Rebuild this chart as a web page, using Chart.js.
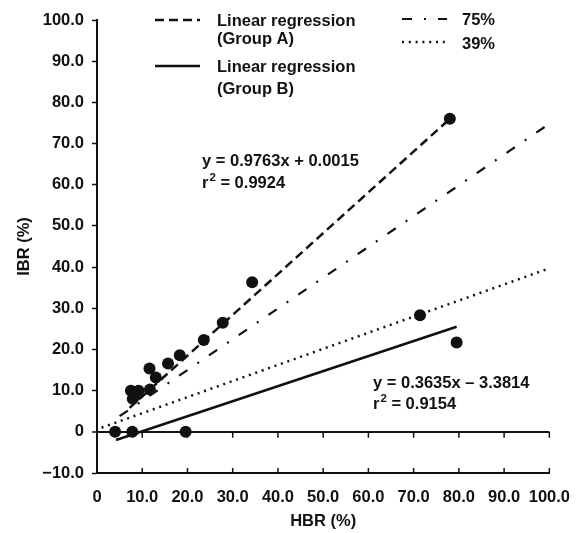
<!DOCTYPE html>
<html>
<head>
<meta charset="utf-8">
<title>IBR vs HBR</title>
<script src="https://cdn.jsdelivr.net/npm/chart.js@4.4.1/dist/chart.umd.min.js"></script>
<style>
  html, body { margin: 0; padding: 0; background: #fff; }
  canvas { display: block; }
</style>
</head>
<body>
<canvas id="chart" width="585" height="533"></canvas>
<script>
'use strict';

// tick values / labels
const xTickValues = [0, 10, 20, 30, 40, 50, 60, 70, 80, 90, 100];
const xTickLabels = ['0', '10.0', '20.0', '30.0', '40.0', '50.0', '60.0', '70.0', '80.0', '90.0', '100.0'];
const yTickValues = [-10, 0, 10, 20, 30, 40, 50, 60, 70, 80, 90, 100];
const yTickLabels = ['\u221210.0', '0', '10.0', '20.0', '30.0', '40.0', '50.0', '60.0', '70.0', '80.0', '90.0', '100.0'];

// Group A samples (HBR %, IBR %)
const groupAX = [7.5, 9.2, 7.9, 8.8, 11.7, 11.6, 13.0, 15.7, 18.3, 23.6, 27.8, 34.3, 78.0];
const groupAY = [10.0, 10.0, 8.0, 9.0, 10.3, 15.4, 13.2, 16.6, 18.6, 22.3, 26.5, 36.3, 76.0];

// Group B samples
const groupBX = [4.0, 7.8, 19.6, 71.4, 79.5];
const groupBY = [0, 0, 0, 28.3, 21.7];

// regression line ends
const regAX = [7.2, 78.0];
const regAY = [5.8, 76.0];
const regBX = [4.2, 79.5];
const regBY = [-2.0, 25.5];

// reference lines
const line75X = [5, 100];
const line75Y = [3.8, 74.8];
const line39X = [1, 100];
const line39Y = [1.0, 39.7];

const FONT = 'Liberation Sans';
const INK = '#111';

const toPoints = (xs, ys) => xs.map((x, i) => ({ x, y: ys[i] }));

const lineSet = (label, xs, ys, dash, width) => ({
  label,
  data: toPoints(xs, ys),
  showLine: true,
  borderColor: INK,
  backgroundColor: INK,
  borderWidth: width,
  borderDash: dash,
  borderCapStyle: 'butt',
  pointRadius: 0,
  pointHoverRadius: 0,
  order: 2
});

const pointSet = (label, xs, ys) => ({
  label,
  data: toPoints(xs, ys),
  showLine: false,
  pointRadius: 6,
  pointHoverRadius: 6,
  pointBackgroundColor: INK,
  pointBorderColor: INK,
  pointBorderWidth: 0,
  order: 1
});

// legend drawn by hand so the labels can wrap to two lines
const legendItems = [
  { ds: 0, x: 155, y: 20, text: ['Linear regression', '(Group A)'], tx: 217, ty: [21, 39.5] },
  { ds: 1, x: 155, y: 66, text: ['Linear regression', '(Group B)'], tx: 217, ty: [67, 89.5] },
  { ds: 2, x: 402, y: 19, text: ['75%'], tx: 462, ty: [20] },
  { ds: 3, x: 402, y: 42, text: ['39%'], tx: 462, ty: [44] }
];

// equations; sup is drawn small and raised
const notes = [
  { x: 202, y: 161, text: 'y = 0.9763x + 0.0015' },
  { x: 202, y: 183, text: 'r', sup: '2', rest: ' = 0.9924' },
  { x: 373, y: 383, text: 'y = 0.3635x \u2013 3.3814' },
  { x: 373, y: 404, text: 'r', sup: '2', rest: ' = 0.9154' }
];

const decorPlugin = {
  id: 'decor',
  afterDatasetsDraw(chart) {
    const { ctx, scales: { x, y } } = chart;
    ctx.save();

    // x tick marks: up from bottom axis, down from the zero line
    ctx.strokeStyle = INK;
    ctx.lineWidth = 1.5;
    const yBottom = y.getPixelForValue(-10);
    const yZero = y.getPixelForValue(0);
    xTickValues.slice(1).forEach(v => {
      const px = x.getPixelForValue(v);
      ctx.beginPath();
      ctx.moveTo(px, yBottom);
      ctx.lineTo(px, yBottom - 5);
      ctx.moveTo(px, yZero);
      ctx.lineTo(px, yZero + 6);
      ctx.stroke();
    });

    // legend
    const mainFont = `bold 16.5px "${FONT}"`;
    ctx.font = mainFont;
    ctx.fillStyle = INK;
    ctx.textBaseline = 'middle';
    ctx.textAlign = 'left';
    legendItems.forEach(it => {
      const ds = chart.data.datasets[it.ds];
      ctx.setLineDash(ds.borderDash || []);
      ctx.lineWidth = ds.borderWidth;
      ctx.lineCap = 'butt';
      ctx.beginPath();
      ctx.moveTo(it.x, it.y);
      ctx.lineTo(it.x + 45, it.y);
      ctx.stroke();
      it.text.forEach((t, i) => ctx.fillText(t, it.tx, it.ty[i]));
    });
    ctx.setLineDash([]);

    // equations
    notes.forEach(n => {
      ctx.font = mainFont;
      ctx.fillText(n.text, n.x, n.y);
      if (n.sup) {
        let cx = n.x + ctx.measureText(n.text).width + 1;
        ctx.font = `bold 11.5px "${FONT}"`;
        ctx.fillText(n.sup, cx, n.y - 5);
        cx += ctx.measureText(n.sup).width;
        ctx.font = mainFont;
        ctx.fillText(n.rest, cx, n.y);
      }
    });
    ctx.restore();
  }
};

new Chart(document.getElementById('chart'), {
  type: 'scatter',
  data: {
    datasets: [
      lineSet('Linear regression (Group A)', regAX, regAY, [9, 5], 2.5),
      lineSet('Linear regression (Group B)', regBX, regBY, [], 2.5),
      lineSet('75%', line75X, line75Y, [10, 12, 2, 12], 2.2),
      lineSet('39%', line39X, line39Y, [2, 4.8], 2.5),
      pointSet('Group A', groupAX, groupAY),
      pointSet('Group B', groupBX, groupBY)
    ]
  },
  options: {
    responsive: false,
    animation: false,
    devicePixelRatio: 1,
    layout: { autoPadding: false, padding: { top: 20, right: 33, left: 0, bottom: 0 } },
    plugins: {
      legend: { display: false },
      tooltip: { enabled: false }
    },
    scales: {
      x: {
        type: 'linear',
        min: 0, max: 100,
        afterBuildTicks: s => { s.ticks = xTickValues.map(v => ({ value: v })); },
        afterFit: s => { s.height = 60; },
        ticks: {
          callback: (v, i) => xTickLabels[i],
          color: INK,
          padding: 15,
          maxRotation: 0,
          autoSkip: false,
          font: { family: FONT, size: 16.5, weight: 'bold' }
        },
        grid: { display: false, drawTicks: false },
        border: { display: true, color: INK, width: 2 },
        title: {
          display: true,
          text: 'HBR (%)',
          color: INK,
          padding: { top: 0, bottom: 2 },
          font: { family: FONT, size: 16.5, weight: 'bold' }
        }
      },
      y: {
        type: 'linear',
        min: -10, max: 100,
        afterBuildTicks: s => { s.ticks = yTickValues.map(v => ({ value: v })); },
        afterFit: s => { s.width = 97; },
        ticks: {
          callback: (v, i) => yTickLabels[i],
          color: INK,
          padding: 8,
          autoSkip: false,
          font: { family: FONT, size: 16.5, weight: 'bold' }
        },
        grid: {
          drawOnChartArea: true,
          color: c => (c.tick && c.tick.value === 0 ? INK : 'rgba(0,0,0,0)'),
          lineWidth: c => (c.tick && c.tick.value === 0 ? 2 : 1),
          tickColor: INK,
          tickLength: 5,
          tickWidth: 1.5
        },
        border: { display: true, color: INK, width: 2 },
        title: {
          display: true,
          text: 'IBR (%)',
          color: INK,
          padding: { top: 15, bottom: 0 },
          font: { family: FONT, size: 16.5, weight: 'bold' }
        }
      }
    }
  },
  plugins: [decorPlugin]
});
</script>
</body>
</html>
